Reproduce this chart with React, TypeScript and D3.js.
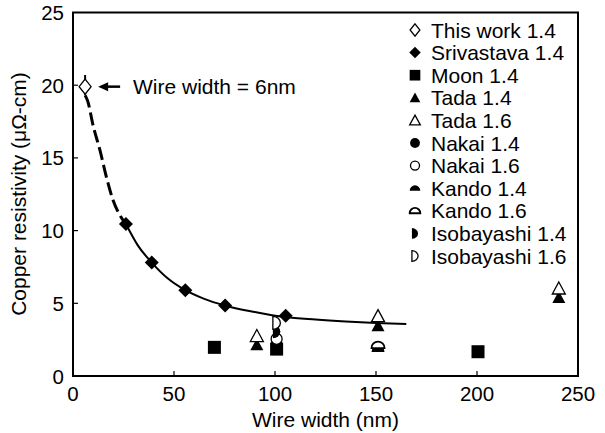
import React from "react";
import * as d3 from "d3";

const W = 605, H = 433;

// Data
const thisWork = [{ x: 6, y: 19.9 }];
const thisWorkErr = [{ x: 6, lo: 19.3, hi: 20.7 }];
const srivastava = [
  { x: 26.2, y: 10.45 }, { x: 39, y: 7.8 }, { x: 55.6, y: 5.9 }, { x: 75.3, y: 4.85 }, { x: 105.3, y: 4.15 },
];
const moon = [{ x: 70, y: 1.97 }, { x: 100.8, y: 1.85 }, { x: 200.5, y: 1.67 }];
const tada14 = [{ x: 91, y: 2.15 }, { x: 151, y: 3.45 }, { x: 240.5, y: 5.4 }];
const tada16 = [{ x: 91, y: 2.75 }, { x: 151, y: 4.12 }, { x: 240.5, y: 6.02 }];
const nakai14 = [{ x: 100.8, y: 2.15 }];
const nakai16 = [{ x: 100.8, y: 2.55 }];
const kando14 = [{ x: 151, y: 1.86 }];
const kando16 = [{ x: 151, y: 2.13 }];
const isobayashi14 = [{ x: 100.8, y: 3.05 }];
const isobayashi16 = [{ x: 100.8, y: 3.65 }];

const dashedCurve = [
  [6, 19.3], [7.3, 18.9], [10, 17.2], [13.4, 15.5], [16.5, 13.7], [19.8, 12.1], [23, 11.1], [26.2, 10.45],
];
const solidCurve = [
  [26.2, 10.45], [32, 9.0], [39, 7.8], [47, 6.7], [55.6, 5.9], [65, 5.3], [75, 4.85], [90, 4.4],
  [105, 4.05], [120, 3.88], [135, 3.75], [150, 3.65], [165, 3.58],
];

const xTicks = [0, 50, 100, 150, 200, 250];
const yTicks = [0, 5, 10, 15, 20, 25];

const legendLabels = [
  "This work 1.4", "Srivastava 1.4", "Moon 1.4", "Tada 1.4", "Tada 1.6", "Nakai 1.4",
  "Nakai 1.6", "Kando 1.4", "Kando 1.6", "Isobayashi 1.4", "Isobayashi 1.6",
];
const legendShapes = [
  "diamondOpen", "diamond", "square", "triangle", "triangleOpen", "circle",
  "circleOpen", "dome", "domeOpen", "dHalf", "dOpen",
];

const FONT = "'Liberation Sans', Arial, Helvetica, sans-serif";

function Marker({ shape, cx, cy, s = 1 }: { shape: string; cx: number; cy: number; s?: number }) {
  const t = `translate(${cx},${cy})`;
  const sw = 1.3;
  switch (shape) {
    case "diamond": {
      const w = 7 * s, h = 7 * s;
      return <path transform={t} d={`M0,${-h}L${w},0L0,${h}L${-w},0Z`} fill="#000" />;
    }
    case "diamondOpen": {
      const w = 6 * s, h = 7.5 * s;
      return <path transform={t} d={`M0,${-h}L${w},0L0,${h}L${-w},0Z`} fill="#fff" stroke="#000" strokeWidth={sw} />;
    }
    case "square": {
      const a = 6.5 * s;
      return <rect x={cx - a} y={cy - a} width={2 * a} height={2 * a} fill="#000" />;
    }
    case "triangle":
    case "triangleOpen": {
      const w = 6.5 * s, h = 6.5 * s;
      const open = shape === "triangleOpen";
      return (
        <path transform={t} d={`M0,${-h}L${w},${h * 0.85}L${-w},${h * 0.85}Z`}
          fill={open ? "#fff" : "#000"} stroke="#000" strokeWidth={open ? sw : 0} />
      );
    }
    case "circle":
      return <circle cx={cx} cy={cy} r={6 * s} fill="#000" />;
    case "circleOpen":
      return <circle cx={cx} cy={cy} r={5.5 * s} fill="#fff" stroke="#000" strokeWidth={sw} />;
    case "dome":
    case "domeOpen": {
      const r = 6.5 * s;
      const open = shape === "domeOpen";
      const b = 3 * s;
      return (
        <path transform={t} d={`M${-r},${b}A${r},${r} 0 0 1 ${r},${b}Z`}
          fill={open ? "#fff" : "#000"} stroke="#000" strokeWidth={open ? sw + 0.5 : 0} />
      );
    }
    case "dHalf":
    case "dOpen": {
      const w = 7.5 * s, h = 6.5 * s;
      const open = shape === "dOpen";
      return (
        <path transform={t} d={`M${-w / 2},${-h}A${w},${h} 0 0 1 ${-w / 2},${h}Z`}
          fill={open ? "#fff" : "#000"} stroke="#000" strokeWidth={open ? sw : 0} />
      );
    }
  }
  return null;
}

export default function App() {
  const x = d3.scaleLinear().domain([0, 250]).range([73, 578]);
  const y = d3.scaleLinear().domain([0, 25]).range([376, 12.5]);
  const line = d3.line<number[]>().x((d) => x(d[0])).y((d) => y(d[1])).curve(d3.curveMonotoneX);

  const series: [string, { x: number; y: number }[]][] = [
    ["diamond", srivastava],
    ["square", moon],
    ["triangle", tada14],
    ["triangleOpen", tada16],
    ["circle", nakai14],
    ["circleOpen", nakai16],
    ["dome", kando14],
    ["domeOpen", kando16],
    ["dHalf", isobayashi14],
    ["dOpen", isobayashi16],
  ];

  const legendX = 415, legendY0 = 30, legendDy = 22.6;

  return (
    <svg width={W} height={H} style={{ position: "absolute", left: 0, top: 0, background: "#fff" }}
      fontFamily={FONT}>
      <rect x={0} y={0} width={W} height={H} fill="#fff" />
      {/* curves */}
      <path d={line(dashedCurve as any) || ""} fill="none" stroke="#000" strokeWidth={3} strokeDasharray="13 5" />
      <path d={line(solidCurve as any) || ""} fill="none" stroke="#000" strokeWidth={2} />

      {/* markers */}
      {series.map(([shape, pts]) =>
        pts.map((p, i) => <Marker key={shape + i} shape={shape} cx={x(p.x)} cy={y(p.y)} />)
      )}
      {thisWorkErr.map((e, i) => (
        <line key={"e" + i} x1={x(e.x)} x2={x(e.x)} y1={y(e.lo)} y2={y(e.hi)} stroke="#000" strokeWidth={2} />
      ))}
      {thisWork.map((p, i) => <Marker key={"tw" + i} shape="diamondOpen" cx={x(p.x)} cy={y(p.y)} />)}

      {/* annotation */}
      <line x1={x(6) + 20} x2={x(6) + 35} y1={y(19.9)} y2={y(19.9)} stroke="#000" strokeWidth={2.5} />
      <path d={`M${x(6) + 13},${y(19.9)}l10,-4.5l0,9Z`} fill="#000" />
      <text x={133} y={y(19.9) + 7.5} fontSize={21} fill="#000">Wire width = 6nm</text>

      {/* frame */}
      <rect x={73} y={12.5} width={505} height={363.5} fill="none" stroke="#000" strokeWidth={2} />
      {/* ticks */}
      {xTicks.slice(1, -1).map((t) => (
        <line key={"xt" + t} x1={x(t)} x2={x(t)} y1={376} y2={371} stroke="#000" strokeWidth={1.2} />
      ))}
      {yTicks.slice(1, -1).map((t) => (
        <line key={"yt" + t} x1={73} x2={78} y1={y(t)} y2={y(t)} stroke="#000" strokeWidth={1.2} />
      ))}
      {xTicks.map((t) => (
        <text key={"xl" + t} x={x(t)} y={400.5} fontSize={20.5} textAnchor="middle" fill="#000">{t}</text>
      ))}
      {yTicks.map((t) => (
        <text key={"yl" + t} x={64} y={y(t) + 7.5} fontSize={20.5} textAnchor="end" fill="#000">{t}</text>
      ))}
      <text x={325.5} y={427} fontSize={21} textAnchor="middle" fill="#000">Wire width (nm)</text>
      <text transform={`translate(26,194) rotate(-90)`} fontSize={21} textAnchor="middle" fill="#000">
        Copper resistivity (μΩ-cm)
      </text>

      {/* legend */}
      {legendLabels.map((lab, i) => (
        <g key={lab}>
          <Marker shape={legendShapes[i]} cx={legendX} cy={legendY0 + i * legendDy} s={0.82} />
          <text x={431} y={legendY0 + i * legendDy + 7.5} fontSize={21} fill="#000">{lab}</text>
        </g>
      ))}
    </svg>
  );
}
